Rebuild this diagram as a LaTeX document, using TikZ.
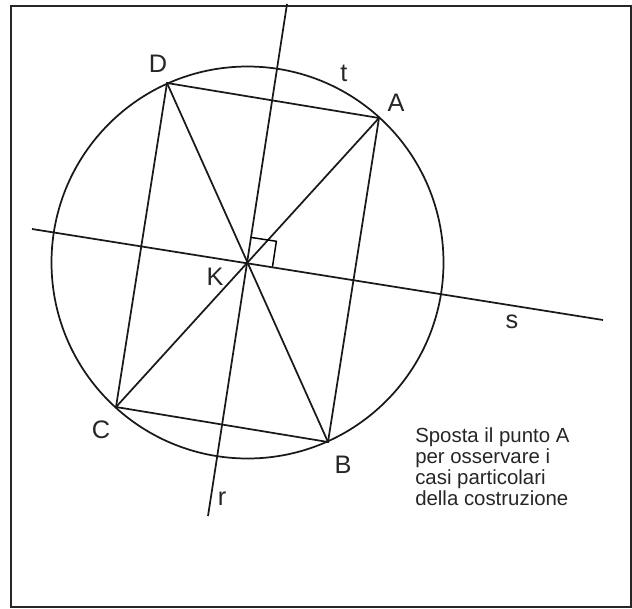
\documentclass[tikz,border=0pt]{standalone}
\usepackage{fontspec}
\setmainfont{Liberation Sans}
\usepackage{tikz}
\usetikzlibrary{calc}

\begin{document}
\begin{tikzpicture}[
  x=0.75pt,y=-0.75pt,
  geo/.style={line width=1.3pt,black!90},
  lbl/.style={font=\fontsize{19}{21}\selectfont,text=black!85,inner sep=0pt},
  note/.style={font=\fontsize{15.3}{15.8}\selectfont,text=black!85,align=left,inner sep=0pt},
]
\useasboundingbox (0,0) rectangle (632,608);
\draw[line width=1pt,black!85] (11,6) rectangle (631,607);
% points of the construction
\coordinate (K) at (247.5,262.5);
\coordinate (A) at (379,118);
\coordinate (C) at ($(K)!-1!(A)$);
\coordinate (D) at (167,83);
\coordinate (B) at ($(K)!-1!(D)$);
\coordinate (s1) at (32,229);
\coordinate (s2) at (603,320);
\coordinate (r1) at (287,4);
\coordinate (r2) at (208,516);
% circle t
\draw[geo] (K) circle (196);
% lines r and s
\draw[geo] (s1) -- (s2);
\draw[geo] (r1) -- (r2);
% rectangle and diagonals
\draw[geo] (A) -- (B) -- (C) -- (D) -- cycle;
\draw[geo] (A) -- (C);
\draw[geo] (D) -- (B);
% right angle mark
\draw[line width=1.1pt] ($(K)!19pt!(r1)$) coordinate (m1)
  -- ($(m1)!19pt!90:(K)$) coordinate (m2)
  -- ($(K)!19pt!(s2)$) coordinate (m3);
% labels
\node[lbl] (lD) at (158,64) {D};
\node[lbl] (lt) at (344,73) {t};
\node[lbl] (lA) at (396,103) {A};
\node[lbl] (lK) at (215,277) {K};
\node[lbl] (ls) at (512,322) {s};
\node[lbl] (lC) at (101,430) {C};
\node[lbl] (lB) at (343,465) {B};
\node[lbl] (lr) at (222,499) {r};
\node[note,anchor=north west] (txt) at (415,427)
  {Sposta il punto A\\per osservare i\\casi particolari\\della costruzione};
\end{tikzpicture}
\end{document}
